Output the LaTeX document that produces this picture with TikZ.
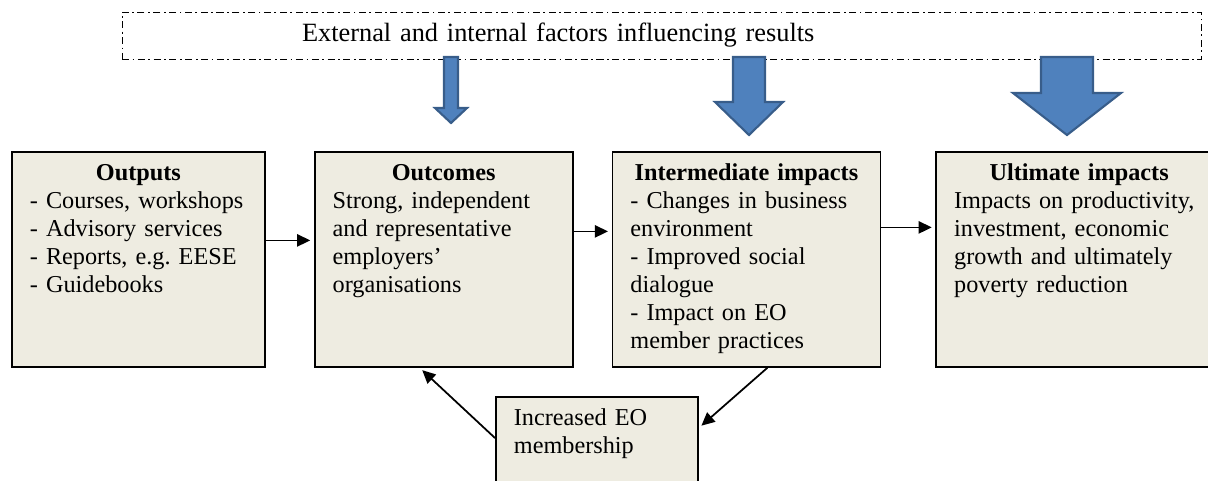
\documentclass[tikz,border=0pt]{standalone}
\usepackage{fontspec}
\setmainfont{Liberation Serif}
\usetikzlibrary{positioning, arrows.meta}
\frenchspacing

\definecolor{stagefill}{HTML}{EEECE1}
\definecolor{pushfill}{HTML}{4F81BD}
\definecolor{pushline}{HTML}{385D8A}

% bold heading centred over the left-aligned lines
\newcommand{\stagehead}[1]{\makebox[\linewidth]{\textbf{#1}}\\}
% block arrow below the factors box: centre x, shaft half width, head half width, head start, tip
\newcommand{\pusharrow}[5]{%
  \draw[pusharr] (#1-#2,-1.14) -- (#1-#2,#4) -- (#1-#3,#4) -- (#1,#5)
    -- (#1+#3,#4) -- (#1+#2,#4) -- (#1+#2,-1.14) -- cycle;}

\begin{document}
\begin{tikzpicture}[
  node distance=0.96cm,
  stage/.style={rectangle, draw, fill=stagefill, line width=1pt,
                inner xsep=0.36cm, inner ysep=0.2cm,
                text height=0.38cm, text depth=3.52cm,
                align=left, font=\fontsize{13.8}{15.9}\selectfont},
  factor/.style={rectangle, draw, line width=0.5pt,
                 dash pattern=on 4pt off 2pt on 1pt off 2pt,
                 text width=14.38cm, inner xsep=3.6cm, minimum height=0.94cm,
                 align=left, font=\fontsize{15}{18}\selectfont},
  arr/.style={-{Triangle[length=7.5pt, width=7pt]}, line width=1pt, shorten >=2pt},
  pusharr/.style={fill=pushfill, draw=pushline, line width=1.2pt},
]
\useasboundingbox (0,0) rectangle (24.16,-9.6);
\node[factor] (factors) at (13.23,-0.71) {External and internal factors influencing results};
% influence from outside
\pusharrow{9.02}{0.14}{0.32}{-2.16}{-2.46}
\pusharrow{14.98}{0.32}{0.68}{-2.04}{-2.70}
\pusharrow{21.34}{0.52}{1.08}{-1.86}{-2.70}
% results chain
\node[stage, text width=4.34cm, anchor=north west] (outputs) at (0.22,-3.02)
  {\stagehead{Outputs}- Courses, workshops\\- Advisory services\\- Reports, e.g. EESE\\- Guidebooks};
\node[stage, text width=4.44cm, right=of outputs] (outcomes)
  {\stagehead{Outcomes}Strong, independent\\and representative\\employers'\\organisations};
\node[stage, text width=4.64cm, right=0.76cm of outcomes] (intermediate)
  {\stagehead{Intermediate impacts}- Changes in business\\environment\\- Improved social\\dialogue\\- Impact on EO\\member practices};
\node[stage, text width=5.0cm, right=1.08cm of intermediate] (ultimate)
  {\stagehead{Ultimate impacts}Impacts on productivity,\\investment, economic\\growth and ultimately\\poverty reduction};
\node[stage, text width=3.32cm, text depth=1.1cm, anchor=north west] (membership) at (9.9,-7.92)
  {Increased EO\\membership};
\draw[arr] ([yshift=0.38cm]outputs.east) -- ([yshift=0.38cm]outcomes.west);
\draw[arr] ([yshift=0.56cm]outcomes.east) -- ([yshift=0.56cm]intermediate.west);
\draw[arr] ([yshift=0.64cm]intermediate.east) -- ([yshift=0.64cm]ultimate.west);
% feedback through membership
\draw[arr] ([xshift=0.42cm]intermediate.south) -- ([yshift=-0.64cm]membership.north east);
\draw[arr] ([yshift=-0.84cm]membership.north west) -- ([xshift=-0.48cm]outcomes.south);
\end{tikzpicture}
\end{document}
